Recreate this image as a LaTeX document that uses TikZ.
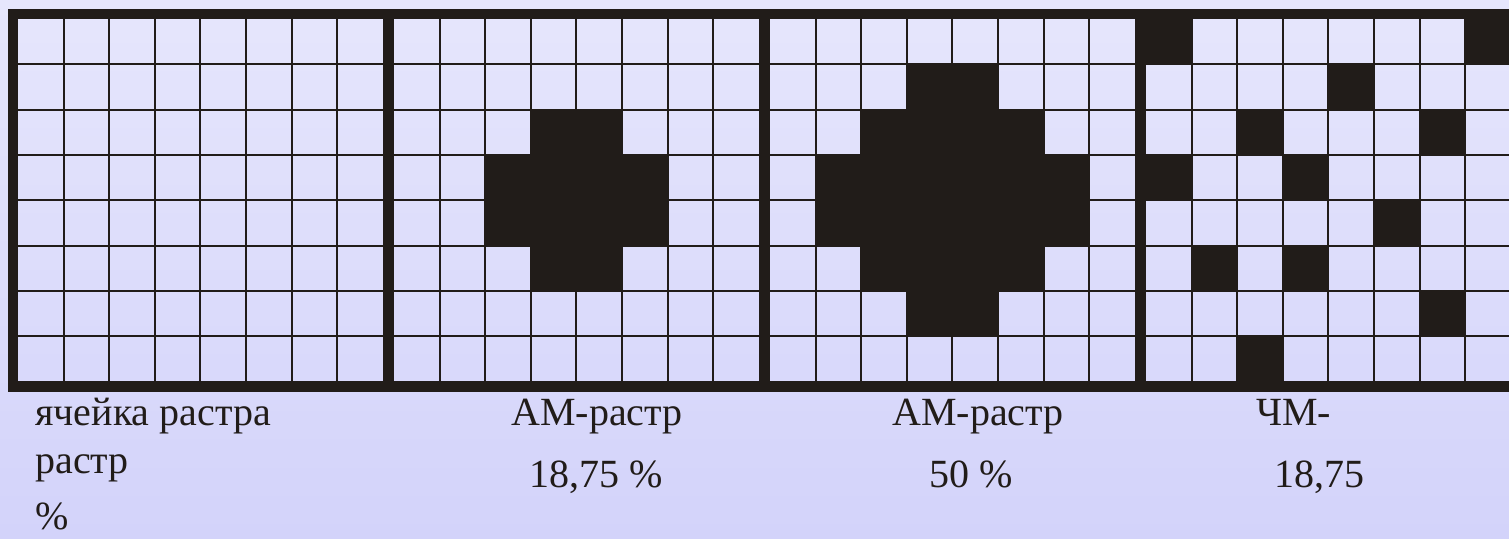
\documentclass[tikz,border=0pt]{standalone}
\usepackage{fontspec}
\setmainfont{Liberation Serif}
\usetikzlibrary{positioning}
\definecolor{RasterInk}{HTML}{211C19}
\definecolor{RasterTop}{HTML}{E6E6FC}
\definecolor{RasterBottom}{HTML}{D3D3FA}
\tikzset{
  every node/.style={font=\rmfamily\fontsize{20}{24}\selectfont, text=RasterInk, inner sep=0pt},
  frame/.style={draw=RasterInk, line width=5.25pt},
  cellline/.style={draw=RasterInk, line width=1pt},
  dot/.style={fill=RasterInk},
  caption/.style={anchor=base west},
}

\begin{document}
\begin{tikzpicture}[x=0.5pt,y=-0.5pt]
  \useasboundingbox (0,0) rectangle (1509,538);
  \clip (0,0) rectangle (1509,538);
  \shade[top color=RasterTop, bottom color=RasterBottom] (0,0) rectangle (1509,538);
  % Dots: AM 18,75 %
  \foreach \c/\r in {3/2,4/2,2/3,3/3,4/3,5/3,2/4,3/4,4/4,5/4,3/5,4/5}
    \fill[dot] (394+\c*45.6,19+\r*45.3) rectangle ++(45.6,45.3);
  % Dots: AM 50 %
  \foreach \c/\r in {3/1,4/1,2/2,3/2,4/2,5/2,1/3,2/3,3/3,4/3,5/3,6/3,
                     1/4,2/4,3/4,4/4,5/4,6/4,2/5,3/5,4/5,5/5,3/6,4/6}
    \fill[dot] (770+\c*45.6,19+\r*45.3) rectangle ++(45.6,45.3);
  % Dots: FM 18,75
  \foreach \c/\r in {0/0,7/0,4/1,2/2,6/2,0/3,3/3,5/4,1/5,3/5,6/6,2/7}
    \fill[dot] (1146+\c*45.6,19+\r*45.3) rectangle ++(45.6,45.3);
  % Cell lines of the four 8x8 grids
  \foreach \k in {0,...,3}{
    \pgfmathsetmacro{\gx}{18+376*\k}
    \foreach \i in {1,...,7}{
      \draw[cellline] (\gx+\i*45.6,19) -- (\gx+\i*45.6,381);
      \draw[cellline] (\gx,19+\i*45.3) -- (\gx+365,19+\i*45.3);
    }
  }
  % Outer frame and separators
  \draw[frame] (13,14) rectangle (1515.5,386.5);
  \foreach \x in {388.5,764.5,1140.5}
    \draw[frame] (\x,14) -- (\x,386.5);
  % Captions
  \node[caption] (cellcap) at (35,425) {ячейка растра};
  \node[caption] (rastcap) at (35,473) {растр};
  \node[caption] (pctcap) at (35,529) {\%};
  \node[caption] (amonecap) at (511,425) {АМ-растр};
  \node[caption] (amonepct) at (529,487) {18,75 \%};
  \node[caption] (amtwocap) at (892,425) {АМ-растр};
  \node[caption] (amtwopct) at (929,487) {50 \%};
  \node[caption] (fmcap) at (1256,425) {ЧМ-};
  \node[caption] (fmpct) at (1274,487) {18,75};
\end{tikzpicture}
\end{document}
